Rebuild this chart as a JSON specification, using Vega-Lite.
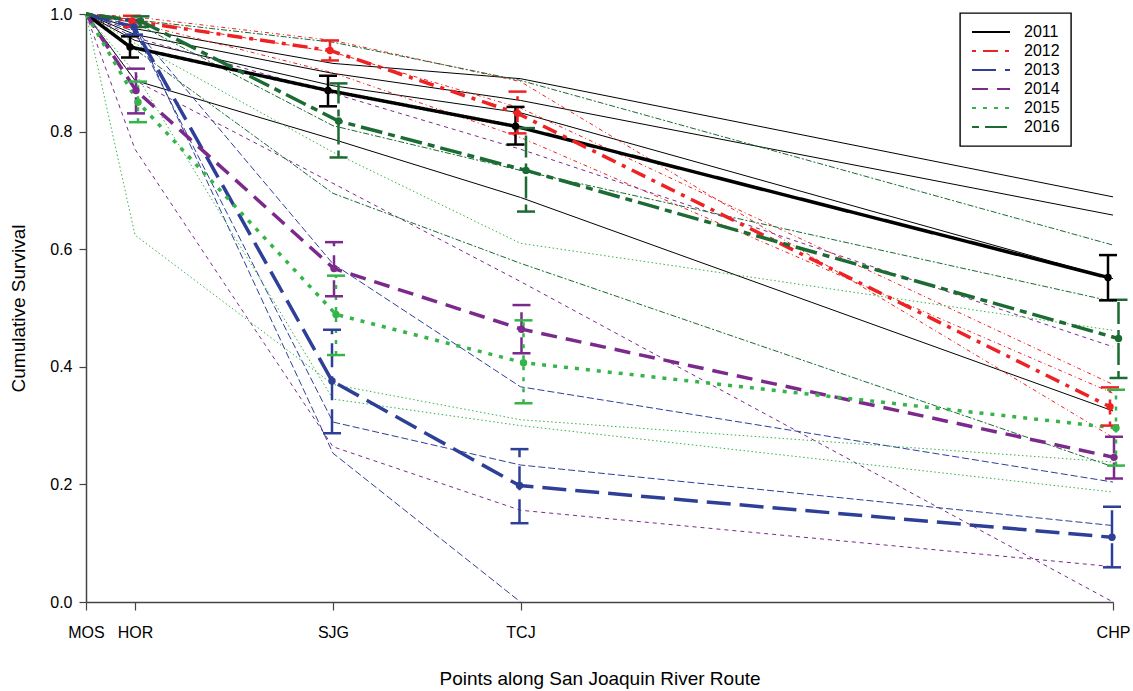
{
  "$schema": "https://vega.github.io/schema/vega-lite/v6.json",
  "width": 1027,
  "height": 588,
  "autosize": {"type": "none"},
  "padding": {"left": 86, "top": 14, "right": 20, "bottom": 89},
  "background": "white",
  "config": {
    "view": {"stroke": null},
    "font": "Liberation Sans, Arial, sans-serif",
    "axis": {
      "grid": false,
      "domainColor": "#444444",
      "domainWidth": 1.5,
      "tickColor": "#444444",
      "tickWidth": 1.2,
      "labelColor": "black",
      "titleColor": "black",
      "labelFontSize": 16,
      "titleFontSize": 19,
      "titleFontWeight": "normal"
    },
    "legend": {
      "orient": "none",
      "legendX": 874,
      "legendY": -1,
      "strokeColor": "black",
      "strokeWidth": 1.4,
      "fillColor": "white",
      "padding": 11,
      "symbolType": "stroke",
      "symbolSize": 1444,
      "symbolStrokeWidth": 2,
      "clipHeight": 16,
      "labelFontSize": 16,
      "labelColor": "black",
      "labelOffset": 13,
      "rowPadding": 3
    }
  },
  "datasets": {
    "thin": [
      {"year": "2011", "grp": "a", "x": 0, "s": 1}, {"year": "2011", "grp": "a", "x": 49, "s": 0.975}, {"year": "2011", "grp": "a", "x": 247, "s": 0.916}, {"year": "2011", "grp": "a", "x": 434.5, "s": 0.89}, {"year": "2011", "grp": "a", "x": 1027, "s": 0.689},
      {"year": "2011", "grp": "b", "x": 0, "s": 1}, {"year": "2011", "grp": "b", "x": 49, "s": 0.965}, {"year": "2011", "grp": "b", "x": 247, "s": 0.899}, {"year": "2011", "grp": "b", "x": 434.5, "s": 0.853}, {"year": "2011", "grp": "b", "x": 1027, "s": 0.658},
      {"year": "2011", "grp": "c", "x": 0, "s": 1}, {"year": "2011", "grp": "c", "x": 49, "s": 0.955}, {"year": "2011", "grp": "c", "x": 247, "s": 0.878}, {"year": "2011", "grp": "c", "x": 434.5, "s": 0.832}, {"year": "2011", "grp": "c", "x": 1027, "s": 0.55},
      {"year": "2011", "grp": "d", "x": 0, "s": 1}, {"year": "2011", "grp": "d", "x": 49, "s": 0.887}, {"year": "2011", "grp": "d", "x": 247, "s": 0.787}, {"year": "2011", "grp": "d", "x": 434.5, "s": 0.688}, {"year": "2011", "grp": "d", "x": 1027, "s": 0.325},
      {"year": "2012", "grp": "a", "x": 0, "s": 1}, {"year": "2012", "grp": "a", "x": 49, "s": 0.995}, {"year": "2012", "grp": "a", "x": 247, "s": 0.955}, {"year": "2012", "grp": "a", "x": 434.5, "s": 0.885}, {"year": "2012", "grp": "a", "x": 1027, "s": 0.28},
      {"year": "2012", "grp": "b", "x": 0, "s": 1}, {"year": "2012", "grp": "b", "x": 49, "s": 0.99}, {"year": "2012", "grp": "b", "x": 247, "s": 0.935}, {"year": "2012", "grp": "b", "x": 434.5, "s": 0.84}, {"year": "2012", "grp": "b", "x": 1027, "s": 0.37},
      {"year": "2012", "grp": "c", "x": 0, "s": 1}, {"year": "2012", "grp": "c", "x": 49, "s": 0.985}, {"year": "2012", "grp": "c", "x": 247, "s": 0.9}, {"year": "2012", "grp": "c", "x": 434.5, "s": 0.79}, {"year": "2012", "grp": "c", "x": 1027, "s": 0.355},
      {"year": "2013", "grp": "a", "x": 0, "s": 1}, {"year": "2013", "grp": "a", "x": 49, "s": 0.98}, {"year": "2013", "grp": "a", "x": 247, "s": 0.253}, {"year": "2013", "grp": "a", "x": 434.5, "s": 0.0},
      {"year": "2013", "grp": "b", "x": 0, "s": 1}, {"year": "2013", "grp": "b", "x": 49, "s": 0.975}, {"year": "2013", "grp": "b", "x": 247, "s": 0.575}, {"year": "2013", "grp": "b", "x": 434.5, "s": 0.366}, {"year": "2013", "grp": "b", "x": 1027, "s": 0.204},
      {"year": "2013", "grp": "c", "x": 0, "s": 1}, {"year": "2013", "grp": "c", "x": 49, "s": 0.97}, {"year": "2013", "grp": "c", "x": 247, "s": 0.306}, {"year": "2013", "grp": "c", "x": 434.5, "s": 0.233}, {"year": "2013", "grp": "c", "x": 1027, "s": 0.13},
      {"year": "2014", "grp": "a", "x": 0, "s": 1}, {"year": "2014", "grp": "a", "x": 49, "s": 0.887}, {"year": "2014", "grp": "a", "x": 247, "s": 0.712}, {"year": "2014", "grp": "a", "x": 434.5, "s": 0.545}, {"year": "2014", "grp": "a", "x": 1027, "s": 0.0},
      {"year": "2014", "grp": "b", "x": 0, "s": 1}, {"year": "2014", "grp": "b", "x": 49, "s": 0.77}, {"year": "2014", "grp": "b", "x": 247, "s": 0.264}, {"year": "2014", "grp": "b", "x": 434.5, "s": 0.156}, {"year": "2014", "grp": "b", "x": 1027, "s": 0.06},
      {"year": "2014", "grp": "c", "x": 0, "s": 1}, {"year": "2014", "grp": "c", "x": 49, "s": 0.96}, {"year": "2014", "grp": "c", "x": 247, "s": 0.865}, {"year": "2014", "grp": "c", "x": 434.5, "s": 0.77}, {"year": "2014", "grp": "c", "x": 1027, "s": 0.434},
      {"year": "2015", "grp": "a", "x": 0, "s": 1}, {"year": "2015", "grp": "a", "x": 49, "s": 0.624}, {"year": "2015", "grp": "a", "x": 247, "s": 0.37}, {"year": "2015", "grp": "a", "x": 434.5, "s": 0.31}, {"year": "2015", "grp": "a", "x": 1027, "s": 0.238},
      {"year": "2015", "grp": "b", "x": 0, "s": 1}, {"year": "2015", "grp": "b", "x": 49, "s": 0.9}, {"year": "2015", "grp": "b", "x": 247, "s": 0.345}, {"year": "2015", "grp": "b", "x": 434.5, "s": 0.3}, {"year": "2015", "grp": "b", "x": 1027, "s": 0.187},
      {"year": "2015", "grp": "c", "x": 0, "s": 1}, {"year": "2015", "grp": "c", "x": 49, "s": 0.95}, {"year": "2015", "grp": "c", "x": 247, "s": 0.765}, {"year": "2015", "grp": "c", "x": 434.5, "s": 0.61}, {"year": "2015", "grp": "c", "x": 1027, "s": 0.462},
      {"year": "2016", "grp": "a", "x": 0, "s": 1}, {"year": "2016", "grp": "a", "x": 49, "s": 0.99}, {"year": "2016", "grp": "a", "x": 247, "s": 0.952}, {"year": "2016", "grp": "a", "x": 434.5, "s": 0.887}, {"year": "2016", "grp": "a", "x": 1027, "s": 0.607},
      {"year": "2016", "grp": "b", "x": 0, "s": 1}, {"year": "2016", "grp": "b", "x": 49, "s": 0.985}, {"year": "2016", "grp": "b", "x": 247, "s": 0.81}, {"year": "2016", "grp": "b", "x": 434.5, "s": 0.734}, {"year": "2016", "grp": "b", "x": 1027, "s": 0.511},
      {"year": "2016", "grp": "c", "x": 0, "s": 1}, {"year": "2016", "grp": "c", "x": 49, "s": 0.94}, {"year": "2016", "grp": "c", "x": 247, "s": 0.695}, {"year": "2016", "grp": "c", "x": 434.5, "s": 0.576}, {"year": "2016", "grp": "c", "x": 1027, "s": 0.23}
    ],
    "mean": [
      {"year": "2011", "stn": "MOS", "x": 0, "s": 1},
      {"year": "2011", "stn": "HOR", "x": 44, "s": 0.944, "lo": 0.926, "hi": 0.962},
      {"year": "2011", "stn": "SJG", "x": 242, "s": 0.87, "lo": 0.843, "hi": 0.895},
      {"year": "2011", "stn": "TCJ", "x": 429.5, "s": 0.809, "lo": 0.778, "hi": 0.842},
      {"year": "2011", "stn": "CHP", "x": 1022, "s": 0.552, "lo": 0.513, "hi": 0.59},
      {"year": "2012", "stn": "MOS", "x": 0, "s": 1},
      {"year": "2012", "stn": "HOR", "x": 46, "s": 0.988, "lo": 0.978, "hi": 0.997},
      {"year": "2012", "stn": "SJG", "x": 244, "s": 0.938, "lo": 0.921, "hi": 0.955},
      {"year": "2012", "stn": "TCJ", "x": 431.5, "s": 0.831, "lo": 0.797, "hi": 0.868},
      {"year": "2012", "stn": "CHP", "x": 1024, "s": 0.332, "lo": 0.3, "hi": 0.365},
      {"year": "2013", "stn": "MOS", "x": 0, "s": 1},
      {"year": "2013", "stn": "HOR", "x": 48, "s": 0.978, "lo": 0.965, "hi": 0.99},
      {"year": "2013", "stn": "SJG", "x": 246, "s": 0.376, "lo": 0.287, "hi": 0.463},
      {"year": "2013", "stn": "TCJ", "x": 433.5, "s": 0.198, "lo": 0.134, "hi": 0.26},
      {"year": "2013", "stn": "CHP", "x": 1026, "s": 0.11, "lo": 0.059, "hi": 0.162},
      {"year": "2014", "stn": "MOS", "x": 0, "s": 1},
      {"year": "2014", "stn": "HOR", "x": 50, "s": 0.87, "lo": 0.831, "hi": 0.907},
      {"year": "2014", "stn": "SJG", "x": 248, "s": 0.567, "lo": 0.52, "hi": 0.612},
      {"year": "2014", "stn": "TCJ", "x": 435.5, "s": 0.464, "lo": 0.423, "hi": 0.505},
      {"year": "2014", "stn": "CHP", "x": 1028, "s": 0.246, "lo": 0.21, "hi": 0.281},
      {"year": "2015", "stn": "MOS", "x": 0, "s": 1},
      {"year": "2015", "stn": "HOR", "x": 52, "s": 0.85, "lo": 0.816, "hi": 0.885},
      {"year": "2015", "stn": "SJG", "x": 250, "s": 0.489, "lo": 0.42, "hi": 0.555},
      {"year": "2015", "stn": "TCJ", "x": 437.5, "s": 0.407, "lo": 0.338, "hi": 0.479},
      {"year": "2015", "stn": "CHP", "x": 1030, "s": 0.296, "lo": 0.232, "hi": 0.361},
      {"year": "2016", "stn": "MOS", "x": 0, "s": 1},
      {"year": "2016", "stn": "HOR", "x": 54.5, "s": 0.988, "lo": 0.978, "hi": 0.996},
      {"year": "2016", "stn": "SJG", "x": 252.5, "s": 0.818, "lo": 0.756, "hi": 0.882},
      {"year": "2016", "stn": "TCJ", "x": 440, "s": 0.734, "lo": 0.664, "hi": 0.806},
      {"year": "2016", "stn": "CHP", "x": 1032.5, "s": 0.448, "lo": 0.381, "hi": 0.514}
    ]
  },
  "layer": [
    {
      "data": {"name": "thin"},
      "transform": [{"filter": "datum.year == '2011'"}],
      "mark": {"type": "line", "color": "#000000", "strokeWidth": 1},
      "encoding": {
        "x": {"field": "x", "type": "quantitative", "scale": {"domain": [0, 1027], "nice": false, "zero": false},
          "axis": {"values": [0, 49, 247, 434.5, 1027], "labelExpr": "datum.value == 0 ? 'MOS' : datum.value == 49 ? 'HOR' : datum.value == 247 ? 'SJG' : datum.value == 434.5 ? 'TCJ' : 'CHP'",
            "tickSize": 8, "labelPadding": 14, "labelFlush": false, "labelOverlap": false,
            "title": "Points along San Joaquin River Route", "titleX": 513.5, "titleY": 76, "titleBaseline": "middle", "titleAlign": "center"}},
        "y": {"field": "s", "type": "quantitative", "scale": {"domain": [0, 1], "nice": false},
          "axis": {"values": [0, 0.2, 0.4, 0.6, 0.8, 1.0], "format": ".1f", "tickSize": 7, "labelPadding": 7, "labelFlush": false,
            "title": "Cumulative Survival", "titleX": -68, "titleY": 294, "titleAngle": -90, "titleAlign": "center", "titleBaseline": "middle"}},
        "detail": {"field": "grp"}
      }
    },
    {
      "data": {"name": "thin"},
      "transform": [{"filter": "datum.year == '2012'"}],
      "mark": {"type": "line", "color": "#ee2222", "strokeWidth": 1, "strokeDash": [1, 3, 4, 3]},
      "encoding": {"x": {"field": "x", "type": "quantitative"}, "y": {"field": "s", "type": "quantitative"}, "detail": {"field": "grp"}}
    },
    {
      "data": {"name": "thin"},
      "transform": [{"filter": "datum.year == '2013'"}],
      "mark": {"type": "line", "color": "#2e3f97", "strokeWidth": 1, "strokeDash": [7, 3]},
      "encoding": {"x": {"field": "x", "type": "quantitative"}, "y": {"field": "s", "type": "quantitative"}, "detail": {"field": "grp"}}
    },
    {
      "data": {"name": "thin"},
      "transform": [{"filter": "datum.year == '2014'"}],
      "mark": {"type": "line", "color": "#7b2a8c", "strokeWidth": 1, "strokeDash": [4, 4]},
      "encoding": {"x": {"field": "x", "type": "quantitative"}, "y": {"field": "s", "type": "quantitative"}, "detail": {"field": "grp"}}
    },
    {
      "data": {"name": "thin"},
      "transform": [{"filter": "datum.year == '2015'"}],
      "mark": {"type": "line", "color": "#35b44a", "strokeWidth": 1, "strokeDash": [1.5, 2.5]},
      "encoding": {"x": {"field": "x", "type": "quantitative"}, "y": {"field": "s", "type": "quantitative"}, "detail": {"field": "grp"}}
    },
    {
      "data": {"name": "thin"},
      "transform": [{"filter": "datum.year == '2016'"}],
      "mark": {"type": "line", "color": "#1b6b33", "strokeWidth": 1, "strokeDash": [2, 2, 6, 2]},
      "encoding": {"x": {"field": "x", "type": "quantitative"}, "y": {"field": "s", "type": "quantitative"}, "detail": {"field": "grp"}}
    },
    {
      "data": {"name": "mean"},
      "mark": {"type": "line", "strokeWidth": 3.5},
      "encoding": {
        "x": {"field": "x", "type": "quantitative"},
        "y": {"field": "s", "type": "quantitative"},
        "color": {"field": "year", "type": "nominal", "title": null,
          "scale": {"domain": ["2011", "2012", "2013", "2014", "2015", "2016"], "range": ["#000000", "#ee2222", "#2e3f97", "#7b2a8c", "#35b44a", "#1b6b33"]}},
        "strokeDash": {"field": "year", "type": "nominal", "title": null,
          "scale": {"domain": ["2011", "2012", "2013", "2014", "2015", "2016"], "range": [[1, 0], [4, 7, 15, 7], [24, 9], [16, 9], [4, 7], [7, 6, 22, 6]]}}
      }
    },
    {
      "data": {"name": "mean"},
      "transform": [{"filter": "datum.lo != null"}],
      "mark": {"type": "rule", "strokeWidth": 2.5},
      "encoding": {
        "x": {"field": "x", "type": "quantitative"},
        "y": {"field": "lo", "type": "quantitative"},
        "y2": {"field": "hi"},
        "color": {"field": "year", "type": "nominal", "title": null},
        "strokeDash": {"field": "year", "type": "nominal", "title": null}
      }
    },
    {
      "data": {"name": "mean"},
      "transform": [{"filter": "datum.lo != null"}],
      "mark": {"type": "rule", "strokeWidth": 2.5, "xOffset": -9, "x2Offset": 9},
      "encoding": {
        "x": {"field": "x", "type": "quantitative"},
        "x2": {"field": "x"},
        "y": {"field": "hi", "type": "quantitative"},
        "color": {"field": "year", "type": "nominal", "title": null}
      }
    },
    {
      "data": {"name": "mean"},
      "transform": [{"filter": "datum.lo != null"}],
      "mark": {"type": "rule", "strokeWidth": 2.5, "xOffset": -9, "x2Offset": 9},
      "encoding": {
        "x": {"field": "x", "type": "quantitative"},
        "x2": {"field": "x"},
        "y": {"field": "lo", "type": "quantitative"},
        "color": {"field": "year", "type": "nominal", "title": null}
      }
    },
    {
      "data": {"name": "mean"},
      "transform": [{"filter": "datum.lo != null"}],
      "mark": {"type": "circle", "size": 55, "opacity": 1},
      "encoding": {
        "x": {"field": "x", "type": "quantitative"},
        "y": {"field": "s", "type": "quantitative"},
        "color": {"field": "year", "type": "nominal", "title": null}
      }
    }
  ]
}
